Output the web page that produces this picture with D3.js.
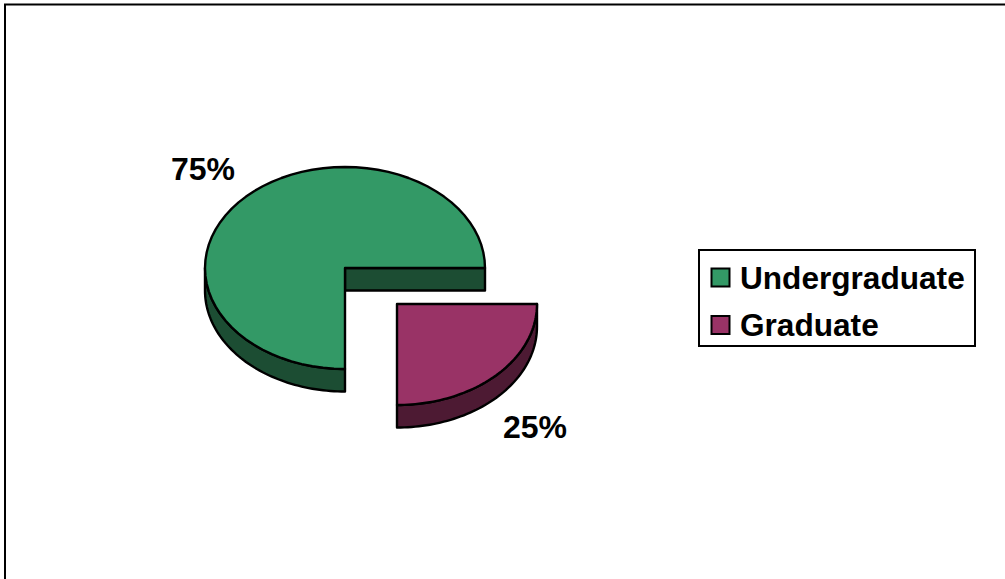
<!DOCTYPE html>
<html><head><meta charset="utf-8">
<script src="https://cdn.jsdelivr.net/npm/d3@7/dist/d3.min.js"></script>
<style>html,body{margin:0;padding:0;background:#fff}svg{display:block}text{font-family:"Liberation Sans",Arial,sans-serif;font-weight:bold;fill:#000}</style>
</head><body>
<script>
const categories = ["Graduate", "Undergraduate"];
const values = [25, 75];
const labels = ["25%", "75%"];
const legendOrder = ["Undergraduate", "Graduate"];
const colors = ["#993366", "#339966"];
const sideColors = ["#4d1a33", "#1c4d33"];

const W = 1005, H = 579;
const svg = d3.select("body").append("svg").attr("width", W).attr("height", H);
svg.append("path").attr("d", `M5,${H}V4.5H${W}`).attr("fill", "none").attr("stroke", "#000").attr("stroke-width", 2);

const rx = 140, ry = 101, depth = 22.5;
const pie = d3.pie().sort(null).startAngle(Math.PI / 2).endAngle(Math.PI * 2.5);
const arcs = pie(values);
const centers = [[397, 304], [345, 268]];
const labelPos = [[535, 438], [203, 180]];
const pt = (a) => [rx * Math.sin(a), -ry * Math.cos(a)];
const sample = (a0, a1) => d3.range(0, 61).map(i => pt(a0 + (a1 - a0) * i / 60));
const line = d3.line();

arcs.forEach((d, i) => {
  const g = svg.append("g").attr("transform", `translate(${centers[i]})`);
  const style = (s, fill) => s.attr("fill", fill).attr("stroke", "#000").attr("stroke-width", 2.4).attr("stroke-linejoin", "round");
  // outer rim wall: visible lower half of the ellipse within this slice
  const r0 = Math.max(d.startAngle, Math.PI / 2), r1 = Math.min(d.endAngle, Math.PI * 1.5);
  const rim = sample(r0, r1);
  const wall = rim.concat(rim.slice().reverse().map(p => [p[0], p[1] + depth]));
  style(g.append("path").attr("d", line(wall) + "Z"), sideColors[i]);
  // cut face visible in the notch, running from the centre to the right-hand edge
  if (d.endAngle > Math.PI * 2) {
    const e = pt(d.endAngle);
    const face = [[0, 0], e, [e[0], e[1] + depth], [0, depth]];
    style(g.append("path").attr("d", line(face) + "Z"), sideColors[i]);
  }
  // top surface
  const top = [[0, 0]].concat(sample(d.startAngle, d.endAngle));
  style(g.append("path").attr("d", line(top) + "Z"), colors[i]);
  svg.append("text").attr("x", labelPos[i][0]).attr("y", labelPos[i][1])
    .attr("text-anchor", "middle").attr("font-size", 32).text(labels[i]);
});

// legend
svg.append("rect").attr("x", 699).attr("y", 250).attr("width", 276).attr("height", 96)
  .attr("fill", "#fff").attr("stroke", "#000").attr("stroke-width", 2);
const yLeg = d3.scalePoint().domain(legendOrder).range([277.5, 325]);
legendOrder.forEach(c => {
  const y = yLeg(c);
  svg.append("rect").attr("x", 711.5).attr("y", y - 9).attr("width", 18).attr("height", 18)
    .attr("fill", colors[categories.indexOf(c)]).attr("stroke", "#000").attr("stroke-width", 2);
  svg.append("text").attr("x", 740).attr("y", y + 11).attr("font-size", 31.6).text(c);
});
</script>
</body></html>
